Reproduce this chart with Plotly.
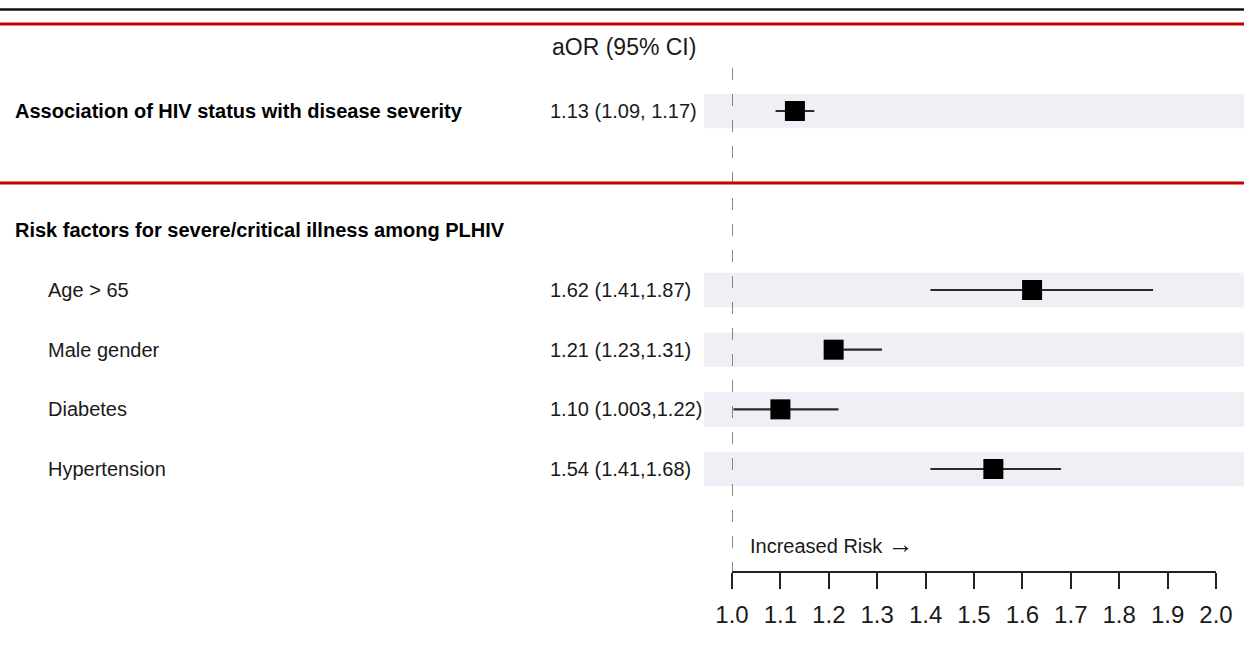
import plotly.graph_objects as go

# ---- data ----
labels = ["Age > 65", "Male gender", "Diabetes", "Hypertension"]
estimates = [1.62, 1.21, 1.10, 1.54]
ci_low = [1.41, 1.23, 1.003, 1.41]
ci_high = [1.87, 1.31, 1.22, 1.68]
value_text = ["1.62 (1.41,1.87)", "1.21 (1.23,1.31)", "1.10 (1.003,1.22)", "1.54 (1.41,1.68)"]

overall_label = "Association of HIV status with disease severity"
overall_est = 1.13
overall_low = 1.09
overall_high = 1.17
overall_text = "1.13 (1.09, 1.17)"

subgroup_heading = "Risk factors for severe/critical illness among PLHIV"
column_header = "aOR (95% CI)"
tick_values = [1.0, 1.1, 1.2, 1.3, 1.4, 1.5, 1.6, 1.7, 1.8, 1.9, 2.0]

# ---- layout geometry (row units on the y axis) ----
W, H = 1244, 653
ROW_PX = 59.67
Y0_PX = 111.0  # pixel centre of row 0


def row_of(px):
    return (px - Y0_PX) / ROW_PX


overall_row = 0
heading_row = 2
rows = [3, 4, 5, 6]

all_est = [overall_est] + estimates
all_low = [overall_low] + ci_low
all_high = [overall_high] + ci_high
all_rows = [overall_row] + rows

FONT = "Liberation Sans, Arial, sans-serif"
TXT = "#1a1a1a"
BAND = "#eff0f6"

fig = go.Figure()

# confidence intervals
for lo, hi, r in zip(all_low, all_high, all_rows):
    fig.add_trace(go.Scatter(
        x=[lo, hi], y=[r, r], mode="lines",
        line=dict(color="#2a2a2a", width=2.2),
        hoverinfo="skip", showlegend=False, cliponaxis=False,
    ))

# point estimates
fig.add_trace(go.Scatter(
    x=all_est, y=all_rows, mode="markers",
    marker=dict(symbol="square", size=20, color="#000000",
                line=dict(width=0)),
    showlegend=False, cliponaxis=False,
))

shapes = []
# shaded bands behind each estimate row
for r in all_rows:
    shapes.append(dict(
        type="rect", xref="paper", yref="y",
        x0=704 / W, x1=1.0, y0=r - 0.29, y1=r + 0.29,
        fillcolor=BAND, line=dict(width=0), layer="below",
    ))

# reference line at OR = 1
shapes.append(dict(
    type="line", xref="x", yref="y",
    x0=1.0, x1=1.0, y0=row_of(68), y1=row_of(572),
    line=dict(color="#7a7a7a", width=1.8, dash="12px,14px"),
    layer="below",
))

# horizontal rules
shapes.append(dict(type="line", xref="paper", yref="y", x0=0, x1=1,
                   y0=row_of(9.5), y1=row_of(9.5),
                   line=dict(color="#111111", width=2.5)))
shapes.append(dict(type="line", xref="paper", yref="y", x0=0, x1=1,
                   y0=row_of(24), y1=row_of(24),
                   line=dict(color="#c40000", width=3)))
shapes.append(dict(type="line", xref="paper", yref="y", x0=0, x1=1,
                   y0=row_of(183), y1=row_of(183),
                   line=dict(color="#c40000", width=3)))

annotations = []


def add_text(text, x_px, row, size=20, bold=False, anchor="left"):
    annotations.append(dict(
        text=f"<b>{text}</b>" if bold else text,
        xref="paper", yref="y", x=x_px / W, y=row,
        xanchor=anchor, yanchor="middle", showarrow=False,
        borderpad=0,
        font=dict(family=FONT, size=size, color="#000000" if bold else TXT),
    ))


add_text(column_header, 624, row_of(47), size=23, anchor="center")
add_text(overall_label, 14, overall_row, bold=True)
add_text(overall_text, 549, overall_row)
add_text(subgroup_heading, 14, heading_row, bold=True)
for lab, vt, r in zip(labels, value_text, rows):
    add_text(lab, 47, r)
    add_text(vt, 549, r)
add_text('Increased Risk <span style="font-size:26px">\u2192</span>', 749, row_of(544))

fig.update_layout(
    width=W, height=H, autosize=False,
    margin=dict(l=0, r=0, t=0, b=0, pad=0),
    paper_bgcolor="white", plot_bgcolor="rgba(0,0,0,0)",
    shapes=shapes, annotations=annotations,
    xaxis=dict(
        domain=[732 / W, 1216 / W], range=[1.0, 2.0],
        anchor="free", position=1 - 572 / H,
        tickvals=tick_values, ticktext=[f"{v:.1f}" for v in tick_values],
        ticks="outside", ticklen=16, tickwidth=2, tickcolor="#222222",
        showline=True, linecolor="#222222", linewidth=2,
        showgrid=False, zeroline=False, automargin=False,
        tickfont=dict(family=FONT, size=24, color=TXT),
        ticklabelstandoff=5,
    ),
    yaxis=dict(
        domain=[0, 1], range=[row_of(H), row_of(0)],
        visible=False, showgrid=False, zeroline=False, automargin=False,
    ),
    hovermode=False,
)

fig.write_html("out.html")
